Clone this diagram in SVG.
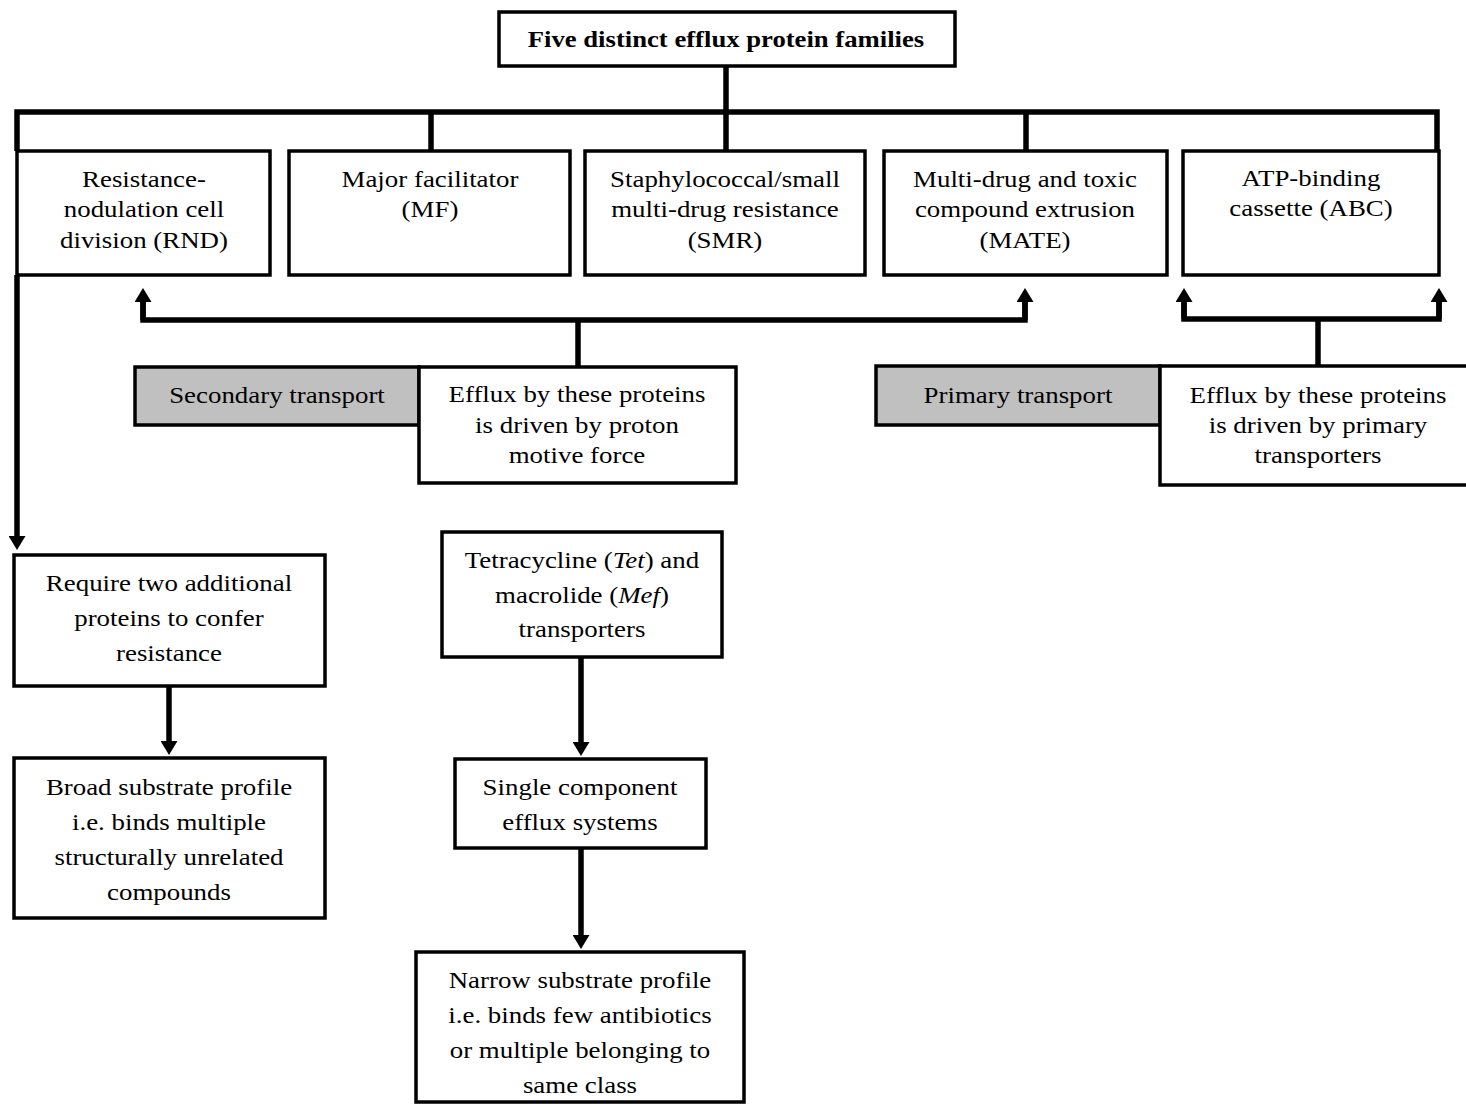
<svg xmlns="http://www.w3.org/2000/svg" width="1466" height="1104" viewBox="0 0 1466 1104">
<style>
  .box { fill: #ffffff; stroke: #000000; stroke-width: 3.5; }
  .grey { fill: #c0c0c0; stroke: #000000; stroke-width: 3.5; }
  .conn { fill: none; stroke: #000000; stroke-width: 5.5; stroke-linejoin: miter; }
  text { font-family: "Liberation Serif", "Times New Roman", serif; font-size: 24px; fill: #000000; text-anchor: middle;
         transform-box: fill-box; transform-origin: center; transform: scaleX(1.12); }
  text.title { font-weight: bold; font-size: 23px; transform: scaleX(1.16); }
  .it { font-style: italic; }
</style>
<defs>
  <marker id="arrow" markerUnits="userSpaceOnUse" markerWidth="14" markerHeight="17" viewBox="0 0 14 17" refX="4" refY="8.5" orient="auto">
    <path d="M0,0 L14,8.5 L0,17 Z" fill="#000000"/>
  </marker>
</defs>
<rect width="1466" height="1104" fill="#ffffff"/>

<g id="connectors">
  <path class="conn" d="M726,66 V112"/>
  <path class="conn" d="M17,151 V112 H1437 V151"/>
  <path class="conn" d="M431,112 V151"/>
  <path class="conn" d="M726,112 V151"/>
  <path class="conn" d="M1026,112 V151"/>
  <path class="conn" d="M17,275 V540" marker-end="url(#arrow)"/>
  <path class="conn" d="M578,367 V320"/>
  <path class="conn" d="M143,298 V320 H1025 V298"/>
  <path class="conn" d="M143,320 V298" marker-end="url(#arrow)"/>
  <path class="conn" d="M1025,320 V298" marker-end="url(#arrow)"/>
  <path class="conn" d="M1318,366 V319"/>
  <path class="conn" d="M1184,298 V319 H1439 V298"/>
  <path class="conn" d="M1184,319 V298" marker-end="url(#arrow)"/>
  <path class="conn" d="M1439,319 V298" marker-end="url(#arrow)"/>
  <path class="conn" d="M169,686 V745" marker-end="url(#arrow)"/>
  <path class="conn" d="M581,657 V746" marker-end="url(#arrow)"/>
  <path class="conn" d="M581,848 V939" marker-end="url(#arrow)"/>
</g>

<g id="title">
  <rect class="box" x="499" y="12" width="456" height="54"/>
  <text class="title" x="726" y="47">Five distinct efflux protein families</text>
</g>

<g id="rnd">
  <rect class="box" x="17" y="151" width="253" height="124"/>
  <text x="144" y="187">Resistance-</text>
  <text x="144" y="217">nodulation cell</text>
  <text x="144" y="248">division (RND)</text>
</g>

<g id="mf">
  <rect class="box" x="289" y="151" width="281" height="124"/>
  <text x="430" y="187">Major facilitator</text>
  <text x="430" y="217">(MF)</text>
</g>

<g id="smr">
  <rect class="box" x="585" y="151" width="280" height="124"/>
  <text x="725" y="187">Staphylococcal/small</text>
  <text x="725" y="217">multi-drug resistance</text>
  <text x="725" y="248">(SMR)</text>
</g>

<g id="mate">
  <rect class="box" x="884" y="151" width="283" height="124"/>
  <text x="1025" y="187">Multi-drug and toxic</text>
  <text x="1025" y="217">compound extrusion</text>
  <text x="1025" y="248">(MATE)</text>
</g>

<g id="abc">
  <rect class="box" x="1183" y="151" width="256" height="124"/>
  <text x="1311" y="186">ATP-binding</text>
  <text x="1311" y="216">cassette (ABC)</text>
</g>

<g id="secondary">
  <rect class="grey" x="135" y="367" width="284" height="58"/>
  <text x="277" y="403">Secondary transport</text>
</g>

<g id="pmf">
  <rect class="box" x="419" y="367" width="317" height="116"/>
  <text x="577" y="402">Efflux by these proteins</text>
  <text x="577" y="433">is driven by proton</text>
  <text x="577" y="463">motive force</text>
</g>

<g id="primary">
  <rect class="grey" x="876" y="366" width="284" height="59"/>
  <text x="1018" y="403">Primary transport</text>
</g>

<g id="primary-driven">
  <rect class="box" x="1160" y="366" width="312" height="119"/>
  <text x="1318" y="403">Efflux by these proteins</text>
  <text x="1318" y="433">is driven by primary</text>
  <text x="1318" y="463">transporters</text>
</g>

<g id="require">
  <rect class="box" x="14" y="555" width="311" height="131"/>
  <text x="169" y="591">Require two additional</text>
  <text x="169" y="626">proteins to confer</text>
  <text x="169" y="661">resistance</text>
</g>

<g id="tet">
  <rect class="box" x="442" y="532" width="280" height="125"/>
  <text x="582" y="568">Tetracycline (<tspan class="it">Tet</tspan>) and</text>
  <text x="582" y="603">macrolide (<tspan class="it">Mef</tspan>)</text>
  <text x="582" y="637">transporters</text>
</g>

<g id="broad">
  <rect class="box" x="14" y="758" width="311" height="160"/>
  <text x="169" y="795">Broad substrate profile</text>
  <text x="169" y="830">i.e. binds multiple</text>
  <text x="169" y="865">structurally unrelated</text>
  <text x="169" y="900">compounds</text>
</g>

<g id="single">
  <rect class="box" x="455" y="759" width="251" height="89"/>
  <text x="580" y="795">Single component</text>
  <text x="580" y="830">efflux systems</text>
</g>

<g id="narrow">
  <rect class="box" x="416" y="952" width="328" height="150"/>
  <text x="580" y="988">Narrow substrate profile</text>
  <text x="580" y="1023">i.e. binds few antibiotics</text>
  <text x="580" y="1058">or multiple belonging to</text>
  <text x="580" y="1093">same class</text>
</g>
</svg>
